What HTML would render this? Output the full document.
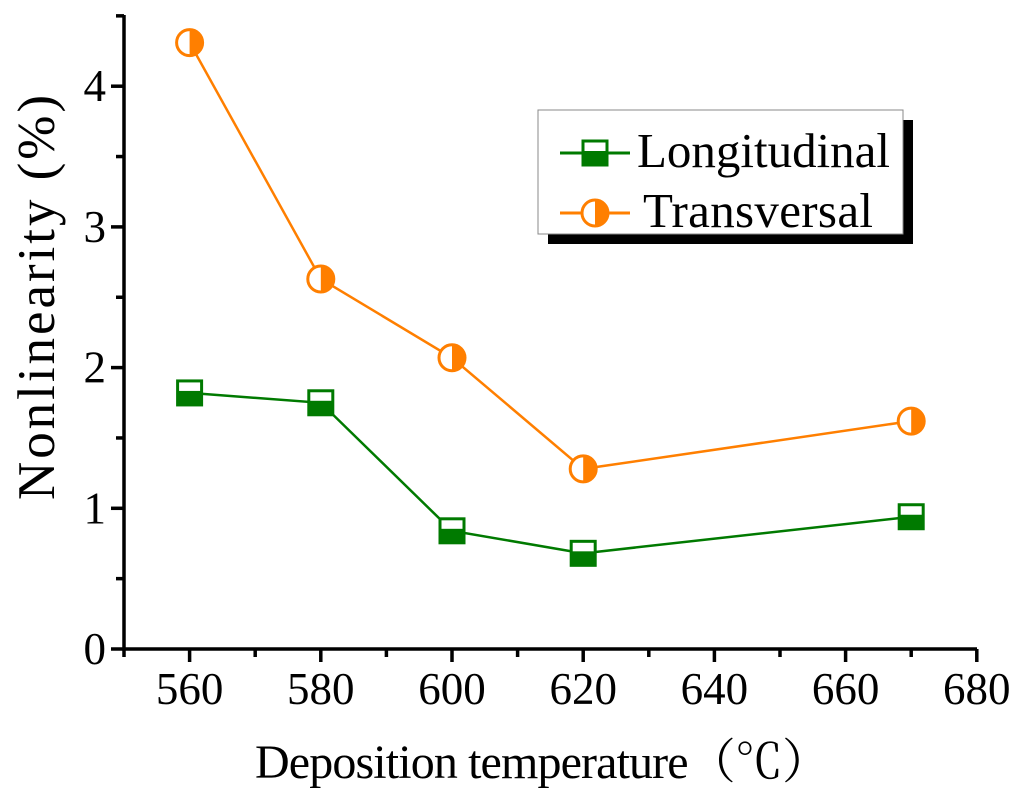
<!DOCTYPE html>
<html><head><meta charset="utf-8"><style>
html,body{margin:0;padding:0;background:#fff;}
svg text{font-family:"Liberation Serif","Noto Serif CJK SC",serif;fill:#000;}
</style></head><body>
<svg id="chart" width="1024" height="796" viewBox="0 0 1024 796" xmlns="http://www.w3.org/2000/svg"></svg>
<script>
const categories=[560,580,600,620,670];
const longitudinal=[1.82,1.75,0.84,0.68,0.94];
const transversal=[4.31,2.63,2.07,1.28,1.62];
const xTicks=[560,580,600,620,640,660,680];
const yTicks=[0,1,2,3,4];
const svg=document.getElementById('chart');
const NS='http://www.w3.org/2000/svg';
const X0=124,Y0=649;
function xs(v){return X0+(v-550)*(131.2/20);}
function ys(v){return Y0-v*140.7;}
function mk(t,a,p){const e=document.createElementNS(NS,t);for(const k in a)e.setAttribute(k,a[k]);(p||svg).appendChild(e);return e;}
const ax=mk('path',{d:`M${X0} 15 V${Y0} H977`,fill:'none',stroke:'#000','stroke-width':3.5});


for(let v=550;v<=680;v+=10){const x=xs(v);const maj=(v%20===0);
 const t=mk('line',{x1:x,y1:Y0,x2:x,y2:Y0+(maj?13:8),stroke:'#000','stroke-width':3.5});
 
 }
xTicks.forEach(v=>{const t=mk('text',{x:xs(v),y:704,'font-size':45,'text-anchor':'middle'});t.textContent=v;
 
 });
for(let v=0;v<=4.5;v+=0.5){const y=ys(v);const maj=(Math.abs(v-Math.round(v))<1e-6);
 const t=mk('line',{x1:X0,y1:y,x2:X0-(maj?13:8),y2:y,stroke:'#000','stroke-width':3.5});
 
 }
yTicks.forEach(v=>{const t=mk('text',{x:106,y:ys(v)+15,'font-size':45,'text-anchor':'end'});t.textContent=v;
 
 });
const xt=mk('text',{x:255,y:778,'font-size':48,textLength:575});xt.textContent='Deposition temperature（℃）';


const yt=mk('text',{x:54,y:500,'font-size':53,textLength:405,transform:'rotate(-90 54 500)'});yt.textContent='Nonlinearity (%)';


function square(x,y,g){
 mk('rect',{x:x-12,y:y-12,width:24,height:24,fill:'#fff',stroke:'#007a00','stroke-width':3},g);
 mk('rect',{x:x-12,y:y-2,width:24,height:14,fill:'#007a00'},g);}
function circ(x,y,g){
 mk('circle',{cx:x,cy:y,r:13,fill:'#fff',stroke:'#ff7f00','stroke-width':3},g);
 mk('path',{d:`M${x} ${y-13} A13 13 0 0 1 ${x} ${y+13} Z`,fill:'#ff7f00'},g);}
function series(vals,color,marker,name){
 const pts=categories.map((c,i)=>xs(c)+','+ys(vals[i])).join(' ');
 const l=mk('polyline',{points:pts,fill:'none',stroke:color,'stroke-width':2.5});
 
 
 categories.forEach((c,i)=>{const g=mk('g',{});
  
  
  marker(xs(c),ys(vals[i]),g);});}
series(longitudinal,'#007a00',square,'longitudinal');
series(transversal,'#ff7f00',circ,'transversal');
const lg=mk('g',{});


mk('rect',{x:548,y:120,width:365,height:124,fill:'#000'},lg);
mk('rect',{x:538,y:110,width:365,height:124,fill:'#fff',stroke:'#888','stroke-width':1},lg);
const e1=mk('g',{},lg);


mk('line',{x1:560,y1:153,x2:630,y2:153,stroke:'#007a00','stroke-width':3},e1);
square(595,153,e1);
const t1=mk('text',{x:637,y:167,'font-size':49,textLength:253},e1);t1.textContent='Longitudinal';
const e2=mk('g',{},lg);


mk('line',{x1:560,y1:213,x2:630,y2:213,stroke:'#ff7f00','stroke-width':3},e2);
circ(595,213,e2);
const t2=mk('text',{x:643,y:227,'font-size':49,textLength:230},e2);t2.textContent='Transversal';
</script>
</body></html>
